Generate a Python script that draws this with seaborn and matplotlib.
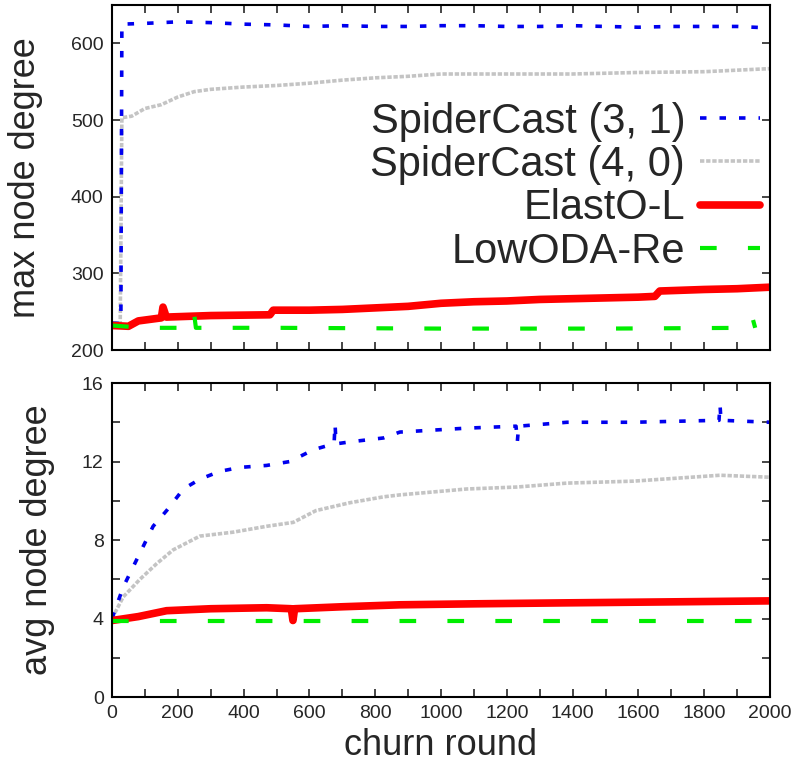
import matplotlib
matplotlib.use("Agg")
import matplotlib.pyplot as plt
from matplotlib.ticker import MultipleLocator, FuncFormatter
import seaborn as sns

# ---- max node degree (top panel) ----
max_sc31_x = [0, 20, 27, 30, 100, 200, 300, 400, 500, 600, 700, 800, 900, 1000,
              1100, 1200, 1300, 1400, 1500, 1600, 1700, 1800, 1900, 2000]
max_sc31_y = [235, 235, 240, 625, 626, 628, 627, 625, 624, 622, 623, 622, 622, 623,
              623, 622, 622, 623, 622, 621, 622, 622, 622, 620]

max_sc40_x = [0, 25, 30, 60, 100, 150, 200, 250, 300, 400, 500, 600, 700, 800,
              900, 1000, 1200, 1400, 1600, 1800, 2000]
max_sc40_y = [235, 235, 503, 505, 515, 520, 530, 537, 540, 543, 545, 548, 552, 555,
              557, 560, 560, 560, 562, 563, 567]

max_elasto_x = [0, 50, 80, 150, 155, 165, 300, 480, 490, 600, 700, 800, 900, 1000,
                1100, 1200, 1300, 1400, 1500, 1600, 1650, 1665, 1800, 1900, 2000]
max_elasto_y = [232, 231, 238, 242, 256, 243, 245, 246, 252, 252, 253, 255, 257, 261,
                263, 264, 266, 267, 268, 269, 270, 277, 279, 280, 282]

max_lowoda_x = [0, 100, 245, 250, 255, 500, 1000, 1500, 1940, 1948, 1955]
max_lowoda_y = [232, 229, 229, 246, 229, 229, 228, 228, 229, 240, 229]

# ---- avg node degree (bottom panel) ----
avg_sc31_x = [0, 34, 75, 125, 166, 217, 267, 328, 389, 470, 541, 612, 653, 675, 678,
              681, 723, 825, 875, 1078, 1228, 1232, 1236, 1383, 1585, 1845, 1848,
              1851, 2000]
avg_sc31_y = [4.0, 5.6, 7.0, 8.7, 9.5, 10.6, 11.1, 11.5, 11.7, 11.8, 12.0, 12.6, 12.8,
              12.9, 13.9, 12.9, 13.0, 13.2, 13.5, 13.7, 13.8, 13.0, 13.8, 14.0, 14.0,
              14.1, 14.9, 14.1, 14.0]

avg_sc40_x = [0, 34, 85, 136, 186, 267, 368, 470, 551, 620, 723, 825, 875, 1078, 1230,
              1383, 1585, 1848, 2000]
avg_sc40_y = [4.0, 5.1, 6.0, 6.8, 7.5, 8.2, 8.4, 8.7, 8.9, 9.5, 9.9, 10.2, 10.3, 10.6,
              10.7, 10.9, 11.0, 11.3, 11.2]

avg_elasto_x = [0, 80, 166, 300, 470, 545, 550, 555, 700, 875, 1100, 1383, 1700, 2000]
avg_elasto_y = [3.9, 4.1, 4.4, 4.5, 4.55, 4.5, 3.9, 4.5, 4.6, 4.7, 4.75, 4.8, 4.85, 4.9]

avg_lowoda_x = [0, 500, 1000, 1500, 1985]
avg_lowoda_y = [3.85, 3.85, 3.85, 3.85, 3.85]

labels = ["SpiderCast (3, 1)", "SpiderCast (4, 0)", "ElastO-L", "LowODA-Re"]
styles = [
    dict(color="#0000ee", lw=2.6, linestyle=(0, (1.8, 3.6))),
    dict(color="#c4c4c4", lw=2.6, linestyle=(0, (1.2, 0.5))),
    dict(color="#ff0000", lw=5.5, linestyle="-"),
    dict(color="#00ee00", lw=3.0, linestyle=(0, (4, 7.5))),
]

sns.set_style("ticks")
plt.rcParams["font.family"] = ["Liberation Sans", "DejaVu Sans"]

fig = plt.figure(figsize=(8, 7.66), dpi=100)
ax1 = fig.add_axes([0.14, 0.543, 0.8225, 0.4505])
ax2 = fig.add_axes([0.14, 0.09, 0.8225, 0.41])

top_data = [(max_sc31_x, max_sc31_y), (max_sc40_x, max_sc40_y),
            (max_elasto_x, max_elasto_y), (max_lowoda_x, max_lowoda_y)]
bot_data = [(avg_sc31_x, avg_sc31_y), (avg_sc40_x, avg_sc40_y),
            (avg_elasto_x, avg_elasto_y), (avg_lowoda_x, avg_lowoda_y)]

# grey drawn first so blue sits on top, as in the original
handles = {}
for i in [1, 0, 2, 3]:
    sns.lineplot(x=top_data[i][0], y=top_data[i][1], ax=ax1, estimator=None,
                 **styles[i])
    handles[i] = ax1.lines[-1]
    sns.lineplot(x=bot_data[i][0], y=bot_data[i][1], ax=ax2, estimator=None,
                 **styles[i])

for ax in (ax1, ax2):
    ax.set_xlim(0, 2000)
    ax.xaxis.set_major_locator(MultipleLocator(100))
    ax.tick_params(axis="both", which="both", direction="in", top=True, right=True,
                   length=6, width=1.2, labelsize=14, pad=6)
    for s in ax.spines.values():
        s.set_linewidth(1.5)
        s.set_color("black")

ax1.set_ylim(200, 650)
ax1.yaxis.set_major_locator(MultipleLocator(100))
ax1.set_xticklabels([])
ax1.set_ylabel("max node degree", fontsize=26)
ax1.yaxis.set_label_coords(-0.105, 0.5)

ax2.set_ylim(0, 16)
ax2.yaxis.set_major_locator(MultipleLocator(2))
ax2.yaxis.set_major_formatter(FuncFormatter(lambda v, p: f"{v:.0f}" if v % 4 == 0 else ""))
ax2.xaxis.set_major_formatter(FuncFormatter(lambda v, p: f"{v:.0f}" if v % 200 == 0 else ""))
ax2.set_ylabel("avg node degree", fontsize=26)
ax2.yaxis.set_label_coords(-0.086, 0.5)
ax2.set_xlabel("churn round", fontsize=26, labelpad=4)

ax1.legend([handles[i] for i in range(4)], labels, loc="upper right",
           bbox_to_anchor=(0.985, 0.72), frameon=False,
           fontsize=30, markerfirst=False, handlelength=1.45, handletextpad=0.35,
           labelspacing=0.08, borderpad=0, borderaxespad=0)

fig.savefig("out.png", dpi=100)
